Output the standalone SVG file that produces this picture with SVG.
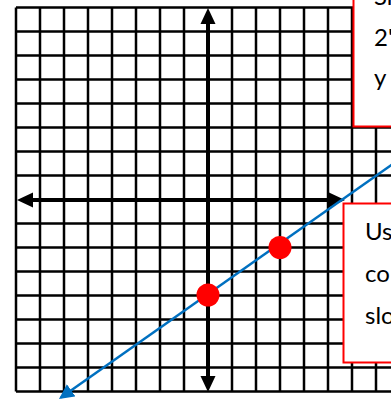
<svg xmlns="http://www.w3.org/2000/svg" width="391" height="402" viewBox="0 0 391 402">
<style>
.g{stroke:#000;stroke-width:2.5;fill:none}
.ax{stroke:#000;stroke-width:4;fill:none}
.box{fill:#fff;stroke:#ff0000;stroke-width:2}
.t{font-family:Lato,"Liberation Sans",sans-serif;font-size:24px;fill:#000}
.dot{fill:#ff0000}
</style>
<defs>
<marker id="ah" markerWidth="6" markerHeight="6" refX="5" refY="3" orient="auto" markerUnits="strokeWidth">
<path d="M0,0 L6,3 L0,6 Z" fill="#0070c0"/>
</marker>
</defs>
<rect width="391" height="402" fill="#fff"/>
<g id="grid">
<path class="g" d="M16,7.5V391.5 M40,7.5V391.5 M64,7.5V391.5 M88,7.5V391.5 M112,7.5V391.5 M136,7.5V391.5 M160,7.5V391.5 M184,7.5V391.5 M232,7.5V391.5 M256,7.5V391.5 M280,7.5V391.5 M304,7.5V391.5 M328,7.5V391.5 M352,7.5V391.5 M376,7.5V391.5"/>
<path class="g" d="M16,7.5H400 M16,31.5H400 M16,55.5H400 M16,79.5H400 M16,103.5H400 M16,127.5H400 M16,151.5H400 M16,175.5H400 M16,223.5H400 M16,247.5H400 M16,271.5H400 M16,295.5H400 M16,319.5H400 M16,343.5H400 M16,367.5H400 M16,391.5H400"/>
</g>
<g id="axes">
<path class="ax" d="M208,20V378"/>
<path d="M208,8 L200.5,24 L215.5,24 Z M208,392 L200.5,376 L215.5,376 Z" fill="#000"/>
<path class="ax" d="M30,200H332"/>
<path d="M17,200 L33,192.5 L33,207.5 Z M345,200 L329,192.5 L329,207.5 Z" fill="#000"/>
</g>
<g id="connectors">
<path d="M400,159 L61,397.5" stroke="#0070c0" stroke-width="2.5" fill="none" marker-end="url(#ah)"/>
</g>
<g id="point1"><circle class="dot" cx="208" cy="295" r="11.5"/></g>
<g id="point2"><circle class="dot" cx="280" cy="247.5" r="11.5"/></g>
<g id="box-top">
<rect class="box" x="353.5" y="-10" width="50" height="136.5"/>
<text class="t" x="374" y="5">Sl</text>
<text class="t" x="374" y="46">2'</text>
<text class="t" x="374" y="86">y</text>
</g>
<g id="box-bottom">
<rect class="box" x="343.5" y="203.5" width="60" height="159"/>
<text class="t" x="365" y="240">Us</text>
<text class="t" x="365" y="282">co</text>
<text class="t" x="365" y="324">slo</text>
</g>
</svg>
